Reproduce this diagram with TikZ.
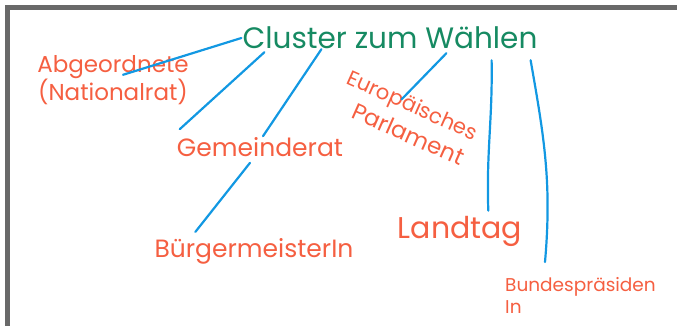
\documentclass[tikz,border=0pt]{standalone}
\usepackage{fontspec}
\setmainfont{Poppins}

\definecolor{titlegreen}{RGB}{22,138,98}
\definecolor{leafred}{RGB}{245,95,65}
\definecolor{linkblue}{RGB}{18,152,226}
\definecolor{framegray}{RGB}{105,105,105}

\begin{document}
\begin{tikzpicture}[
    x=1pt, y=1pt,
    root/.style={text=titlegreen, inner sep=1pt, font=\fontsize{29.5}{31}\selectfont},
    leaf/.style={text=leafred, inner sep=1pt, font=\fontsize{25}{27}\selectfont},
    link/.style={draw=linkblue, line width=2.2pt, line cap=round}
    ]
    \useasboundingbox (0,0) rectangle (677,-326);

    %Frame
    \fill[framegray] (5,-5) rectangle (677,-10);
    \fill[framegray] (5,-5) rectangle (10,-326);

    %Nodes
    \node[root] at (390, -38) (root) {Cluster zum  Wählen};
    \node[leaf, align=center, font=\fontsize{23}{26}\selectfont] at (113, -80) (abg) {Abgeordnete\\(Nationalrat)};
    \node[leaf] at (260, -147) (gem) {Gemeinderat};
    \node[leaf] at (254, -251) (buerg) {BürgermeisterIn};
    \node[leaf, rotate=-24, align=left, font=\fontsize{21}{29}\selectfont] at (407, -118) (europa) {Europäisches\\\hspace{18pt}{\fontsize{23}{29}\selectfont Parlament}};
    \node[leaf, font=\fontsize{30}{32}\selectfont] at (460, -231) (landtag) {Landtag};
    \node[leaf, anchor=north west, align=left, font=\fontsize{18.5}{22}\selectfont] at (504, -276) (bund) {Bundespräsiden\\In};

    %Lines
    \draw[link] (root.west) -- ([shift={(10,-21)}]abg.north);
    \draw[link] ([shift={(23,-2)}]root.south west) -- ([shift={(4,7)}]gem.north west);
    \draw[link] ([shift={(80,1)}]root.south west) -- ([shift={(3,0)}]gem.north);
    \draw[link] ([shift={(-10,-5)}]gem.south) -- ([shift={(42,5)}]buerg.north west);
    \draw[link] ([shift={(205,-3)}]root.south west) -- ([shift={(-15,-3)}]europa.north);
    \draw[link] ([shift={(-47,-10)}]root.south east) to[out=-89, in=92] ([shift={(-35,4)}]landtag.north east);
    \draw[link] ([shift={(-8,-10)}]root.south east) to[out=-80, in=85] ([shift={(41,14)}]bund.north west);
\end{tikzpicture}
\end{document}
